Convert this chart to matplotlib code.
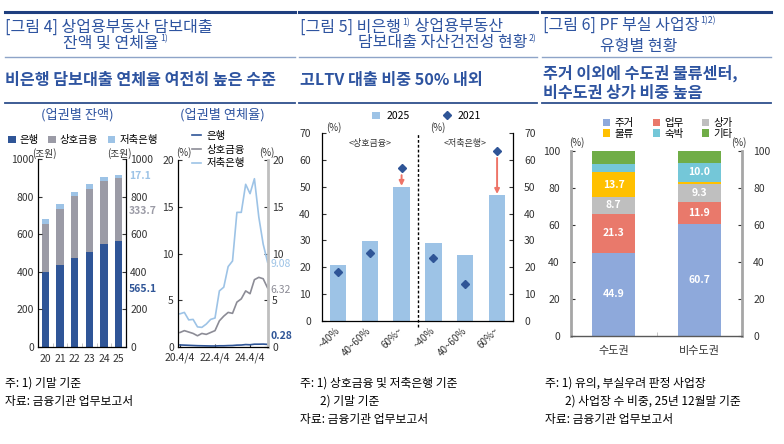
import numpy as np
import matplotlib
matplotlib.use('Agg')
import matplotlib.pyplot as plt
from matplotlib.lines import Line2D

plt.rcParams['font.family'] = ['Noto Sans CJK KR', 'DejaVu Sans']
plt.rcParams['axes.unicode_minus'] = False

# [그림 4] 업권별 잔액 (조원)
years = ['20', '21', '22', '23', '24', '25']
bal_bank = [400, 436, 472, 505, 548, 565.1]
bal_mutual = [255, 299, 329, 337, 336, 333.7]
bal_savings = [25, 25, 26, 26, 20, 17.1]

# [그림 4] 업권별 연체율 (%), 20.4/4 ~ 25.4/4 분기
qtr_ticks = [0, 8, 16]
qtr_labels = ['20.4/4', '22.4/4', '24.4/4']
dr_bank = [0.22, 0.20, 0.18, 0.16, 0.14, 0.13, 0.12, 0.11, 0.11, 0.13, 0.13,
           0.15, 0.16, 0.20, 0.21, 0.26, 0.24, 0.30, 0.30, 0.31, 0.28]
dr_mutual = [1.55, 1.75, 1.60, 1.45, 1.20, 1.45, 1.35, 1.55, 1.75, 2.80, 3.30,
             3.70, 3.60, 4.80, 5.15, 6.00, 5.70, 7.20, 7.45, 7.30, 6.32]
dr_savings = [3.55, 3.70, 2.90, 2.95, 2.15, 2.10, 2.45, 2.95, 3.10, 6.00, 6.40,
              8.60, 9.20, 14.4, 14.4, 17.4, 16.4, 18.0, 13.9, 11.0, 9.08]

# [그림 5] LTV 구간별 비중 (%)
ltv_labels = ['~40%', '40~60%', '60%~', '~40%', '40~60%', '60%~']
ltv_2025 = [20.7, 29.9, 50.0, 29.2, 24.5, 47.0]
ltv_2021 = [18.2, 25.3, 56.8, 23.5, 13.8, 63.2]

# [그림 6] PF 부실 사업장 유형별 비중 (%)
regions = ['수도권', '비수도권']
pf_types = ['주거', '업무', '상가', '물류', '숙박', '기타']
pf_capital = [44.9, 21.3, 8.7, 13.7, 4.5, 6.9]
pf_noncapital = [60.7, 11.9, 9.3, 1.6, 10.0, 6.5]

BLUE = '#2E54A0'
C_BANK = '#2F5597'
C_MUT = '#9B9BA6'
C_SAV = '#9DC3E6'
pf_colors = ['#8EA9DB', '#E9796B', '#BFBFBF', '#FFC000', '#74C7D8', '#70AD47']

W, H = 784, 444
fig = plt.figure(figsize=(W / 100, H / 100), dpi=100)
renderer = fig.canvas.get_renderer()


def ax_px(x0, y0, x1, y1):
    return fig.add_axes([x0 / W, 1 - y1 / H, (x1 - x0) / W, (y1 - y0) / H])


def ftext(x, y, s, **kw):
    return fig.text(x / W, 1 - y / H, s, **kw)


def hline(x0, x1, y, color, lw):
    fig.add_artist(Line2D([x0 / W, x1 / W], [1 - y / H, 1 - y / H], color=color, lw=lw))


def run(x, y, parts, size=11.5, color=BLUE, weight='medium'):
    # 본문과 위첨자를 이어서 배치
    for s, sup in parts:
        if sup:
            t = ftext(x, y - 4, s, fontsize=size * 0.55, color=color, va='center')
        else:
            t = ftext(x, y, s, fontsize=size, color=color, va='center', fontweight=weight)
        x = t.get_window_extent(renderer).x1 + 1


# 머리 부분: 선, 제목, 부제
for x0, x1 in [(5, 295), (299, 537), (542, 771)]:
    hline(x0, x1, 12, '#1F3F7F', 2.2)
    hline(x0, x1, 57, '#8EA4C8', 1.0)
    hline(x0, x1, 103, '#2E4F8C', 1.3)

SUB = 11.6
run(5, 27, [('[그림 4] 상업용부동산 담보대출', False)])
run(63, 43, [('잔액 및 연체율', False), ('1)', True)])
run(5, 80, [('비은행 담보대출 연체율 여전히 높은 수준', False)], size=SUB, weight='bold')

run(300, 27, [('[그림 5] 비은행', False), ('1)', True), (' 상업용부동산', False)])
run(358, 43, [('담보대출 자산건전성 현황', False), ('2)', True)])
run(300, 80, [('고LTV 대출 비중 50% 내외', False)], size=SUB, weight='bold')

run(543, 25, [('[그림 6] PF 부실 사업장', False), ('1)2)', True)])
run(600, 46, [('유형별 현황', False)])
run(543, 73, [('주거 이외에 수도권 물류센터,', False)], size=SUB, weight='bold')
run(543, 93, [('비수도권 상가 비중 높음', False)], size=SUB, weight='bold')

ftext(77, 115, '(업권별 잔액)', fontsize=9.5, color=BLUE, ha='center', va='center')
ftext(222, 115, '(업권별 연체율)', fontsize=9.5, color=BLUE, ha='center', va='center')

# 업권별 잔액
ax1 = ax_px(38, 159, 126, 347)
x = np.arange(len(years))
bottom2 = np.add(bal_bank, bal_mutual)
ax1.bar(x, bal_bank, 0.52, color=C_BANK, label='은행')
ax1.bar(x, bal_mutual, 0.52, bottom=bal_bank, color=C_MUT, label='상호금융')
ax1.bar(x, bal_savings, 0.52, bottom=bottom2, color=C_SAV, label='저축은행')
ax1.set_xlim(-0.5, len(years) - 0.5)
ax1.set_ylim(0, 1000)
ax1.set_yticks(range(0, 1001, 200))
ax1.set_xticks(x)
ax1.set_xticklabels(years)
ax1.set_xticks(x[:-1] + 0.5, minor=True)
ax1.tick_params(axis='y', direction='in', length=3, labelsize=7.5, pad=3,
                right=True, labelright=True, colors='#333333')
ax1.tick_params(axis='x', length=0, labelsize=7.5, pad=5, colors='#333333')
ax1.tick_params(axis='x', which='minor', direction='in', length=3, color='#BBBBBB')
ax1.spines['top'].set_visible(False)
for sp in ['left', 'bottom', 'right']:
    ax1.spines[sp].set_linewidth(0.9)
tr1 = ax1.get_yaxis_transform()
ax1.text(1.03, bottom2[-1] + bal_savings[-1] - 5, f'{bal_savings[-1]}', transform=tr1,
         fontsize=7.5, color=C_SAV, va='center', fontweight='bold')
ax1.text(1.03, bal_bank[-1] + bal_mutual[-1] / 2 - 10, f'{bal_mutual[-1]}', transform=tr1,
         fontsize=7.5, color=C_MUT, va='center', fontweight='bold')
ax1.text(1.03, bal_bank[-1] / 2 + 25, f'{bal_bank[-1]}', transform=tr1,
         fontsize=7.5, color=C_BANK, va='center', fontweight='bold')
ftext(44, 154, '(조원)', fontsize=7, color='#333333', ha='center', va='center')
ftext(119, 154, '(조원)', fontsize=7, color='#333333', ha='center', va='center')
ax1.legend(loc='center', bbox_to_anchor=(83 / W, 1 - 140 / H), bbox_transform=fig.transFigure,
           ncol=3, frameon=False, fontsize=7.5, handlelength=0.7, handleheight=0.7,
           handletextpad=0.4, columnspacing=0.9, borderpad=0)

# 업권별 연체율
ax2 = ax_px(178, 160, 268, 347)
q = np.arange(len(dr_bank))
ax2.plot(q, dr_bank, color=C_BANK, lw=1.2, label='은행')
ax2.plot(q, dr_mutual, color='#8C8C96', lw=1.2, label='상호금융')
ax2.plot(q, dr_savings, color=C_SAV, lw=1.2, label='저축은행')
ax2.set_xlim(-0.45, len(q) - 0.9)
ax2.set_ylim(0, 20)
ax2.set_yticks(range(0, 21, 5))
ax2.set_xticks(qtr_ticks)
ax2.set_xticklabels(qtr_labels)
ax2.tick_params(axis='y', direction='in', length=3, labelsize=7.5, pad=3,
                right=True, labelright=True, colors='#333333')
ax2.tick_params(axis='x', direction='in', length=2, labelsize=7.5, pad=4, colors='#333333')
ax2.spines['top'].set_visible(False)
ax2.spines['right'].set_color('#BFBFBF')
ax2.spines['right'].set_linewidth(2)
ax2.spines['left'].set_linewidth(0.9)
ax2.spines['bottom'].set_linewidth(0.9)
tr2 = ax2.get_yaxis_transform()
ax2.text(1.03, dr_savings[-1] - 0.2, f'{dr_savings[-1]}', transform=tr2, fontsize=7.5,
         color=C_SAV, va='center')
ax2.text(1.03, dr_mutual[-1] - 0.2, f'{dr_mutual[-1]}', transform=tr2, fontsize=7.5,
         color='#8C8C96', va='center')
ax2.text(1.03, dr_bank[-1] + 0.9, f'{dr_bank[-1]}', transform=tr2, fontsize=7.5,
         color=C_BANK, va='center', fontweight='bold')
ftext(184, 153, '(%)', fontsize=7, color='#333333', ha='center', va='center')
ftext(267, 153, '(%)', fontsize=7, color='#333333', ha='center', va='center')
ax2.legend(loc='upper left', bbox_to_anchor=(192 / W, 1 - 131 / H), bbox_transform=fig.transFigure,
           frameon=False, fontsize=7.5, handlelength=0.9, handletextpad=0.5,
           labelspacing=0.35, borderpad=0, borderaxespad=0)

# 그림 5
ax3 = ax_px(322, 133, 513, 321)
xl = np.arange(len(ltv_labels))
b25 = ax3.bar(xl, ltv_2025, 0.51, color=C_SAV, label='2025')
d21, = ax3.plot(xl, ltv_2021, 'D', color=C_BANK, markersize=4.5, label='2021', ls='none')
for i in [2, 5]:
    ax3.annotate('', xy=(i, ltv_2025[i] + 0.3), xytext=(i, ltv_2021[i] - 2.5),
                 arrowprops=dict(arrowstyle='-|>', color='#EE7468', lw=1.4,
                                 mutation_scale=7, shrinkA=0, shrinkB=0))
ax3.axvline(2.5, ymin=-0.03, ymax=1, color='black', ls=(0, (2, 1.5)), lw=1, clip_on=False)
ax3.text(1, 66, '<상호금융>', fontsize=6.5, ha='center', va='center', color='#333333')
ax3.text(4, 66, '<저축은행>', fontsize=6.5, ha='center', va='center', color='#333333')
ax3.set_xlim(-0.5, len(ltv_labels) - 0.5)
ax3.set_ylim(0, 70)
ax3.set_yticks(range(0, 71, 10))
ax3.set_xticks(xl)
ax3.set_xticklabels(ltv_labels, rotation=45, ha='right', va='center', rotation_mode='anchor')
ax3.tick_params(axis='y', which='both', length=3, labelsize=7.5, colors='#333333')
ax3.tick_params(axis='y', left=True, direction='out', pad=2)
ax3.tick_params(axis='y', right=True, labelright=True, direction='in', pad=8)
ax3.tick_params(axis='x', length=0, labelsize=7, pad=6, colors='#333333')
ax3.spines['top'].set_visible(False)
for sp in ['left', 'bottom', 'right']:
    ax3.spines[sp].set_linewidth(0.9)
ftext(334, 128, '(%)', fontsize=7, color='#333333', ha='center', va='center')
ftext(438, 128, '(%)', fontsize=7, color='#333333', ha='center', va='center')
ax3.legend([b25, d21], ['2025', '2021'], loc='center',
           bbox_to_anchor=(426 / W, 1 - 116 / H), bbox_transform=fig.transFigure,
           ncol=2, frameon=False, fontsize=7.5, handlelength=0.8, handleheight=0.7,
           handletextpad=0.6, columnspacing=3.2, borderpad=0)

# 그림 6
ax4 = ax_px(571, 151, 742, 336)
xr = np.arange(len(regions))
bottoms = np.zeros(len(regions))
for k, name in enumerate(pf_types):
    vals = np.array([pf_capital[k], pf_noncapital[k]])
    ax4.bar(xr, vals, 0.5, bottom=bottoms, color=pf_colors[k], label=name)
    for j in range(len(regions)):
        if vals[j] >= 8:
            ax4.text(xr[j], bottoms[j] + vals[j] / 2, f'{vals[j]:.1f}', ha='center', va='center',
                     fontsize=7.5, color='white', fontweight='bold')
    bottoms = bottoms + vals
ax4.set_xlim(-0.5, len(regions) - 0.5)
ax4.set_ylim(0, 100)
ax4.set_yticks(range(0, 101, 20))
ax4.set_xticks(xr)
ax4.set_xticklabels(regions)
ax4.set_xticks([0.5], minor=True)
ax4.tick_params(axis='y', direction='in', length=3, labelsize=7.5, pad=8,
                right=True, labelright=True, colors='#333333')
ax4.tick_params(axis='x', length=0, labelsize=8, pad=7, colors='#333333')
ax4.tick_params(axis='x', which='minor', direction='in', length=3, color='#BBBBBB')
ax4.spines['top'].set_visible(False)
for sp in ['left', 'right']:
    ax4.spines[sp].set_color('#A6A6A6')
    ax4.spines[sp].set_linewidth(2)
ax4.spines['bottom'].set_color('#595959')
ax4.spines['bottom'].set_linewidth(1)
ftext(577, 143, '(%)', fontsize=7, color='#333333', ha='center', va='center')
ftext(739, 143, '(%)', fontsize=7, color='#333333', ha='center', va='center')
h4, l4 = ax4.get_legend_handles_labels()
order = [0, 3, 1, 4, 2, 5]
ax4.legend([h4[i] for i in order], [l4[i] for i in order], loc='center',
           bbox_to_anchor=(668 / W, 1 - 128.5 / H), bbox_transform=fig.transFigure,
           ncol=3, frameon=False, fontsize=7.5, handlelength=0.7, handleheight=0.7,
           handletextpad=0.4, columnspacing=1.8, labelspacing=0.05, borderpad=0)

# 주석
FN = dict(fontsize=8.5, color='black', va='center')
ftext(5, 383, '주: 1) 기말 기준', **FN)
ftext(5, 401, '자료: 금융기관 업무보고서', **FN)
ftext(300, 383, '주: 1) 상호금융 및 저축은행 기준', **FN)
ftext(320, 401, '2) 기말 기준', **FN)
ftext(300, 419, '자료: 금융기관 업무보고서', **FN)
ftext(545, 383, '주: 1) 유의, 부실우려 판정 사업장', **FN)
ftext(565, 401, '2) 사업장 수 비중, 25년 12월말 기준', **FN)
ftext(545, 419, '자료: 금융기관 업무보고서', **FN)

fig.savefig('out.png', dpi=100)
